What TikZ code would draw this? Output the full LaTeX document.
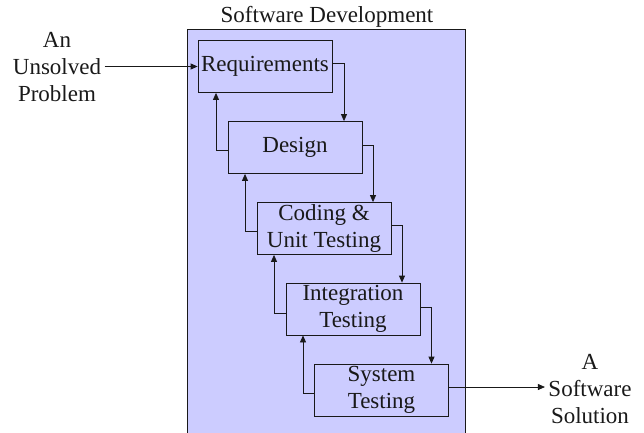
\documentclass[tikz,border=0pt]{standalone}
\usepackage{fontspec}
\setmainfont{Liberation Serif}
\usetikzlibrary{arrows.meta}
\definecolor{lavender}{RGB}{204,204,255}
\definecolor{ink}{RGB}{25,25,25}
\begin{document}
\begin{tikzpicture}[x=1pt,y=-1pt,
  every node/.style={font=\fontsize{23}{27}\selectfont, text=ink},
  phase/.style={draw=ink, line width=0.8pt, minimum width=134pt, minimum height=52pt,
                inner sep=0pt, align=center},
  flow/.style={draw=ink, line width=0.8pt, -{Triangle[length=7pt,width=6pt]}},
  label/.style={align=center}]
  \useasboundingbox (0,0) rectangle (644,432);
  \clip (0,0) rectangle (644,432);

  % enclosing process box
  \fill[lavender] (187,29) rectangle (465,445);
  \draw[ink, line width=0.8pt] (187,445) -- (187,29) -- (465,29) -- (465,445);
  \node (title) at (327,17) {Software Development};

  % phases
  \node[phase] (req) at (265,66.5)  {Requirements};
  \node[phase] (des) at (295,147.5) {Design};
  \node[phase] (cod) at (324,228.5) {Coding \&\\Unit Testing};
  \node[phase] (int) at (353,309)   {Integration\\Testing};
  \node[phase] (sys) at (381.5,390) {System\\Testing};

  % forward flow
  \draw[flow] ([yshift=3pt]req.east) -| ([xshift=49pt]des.north);
  \draw[flow] ([yshift=2pt]des.east) -| ([xshift=49pt]cod.north);
  \draw[flow] ([yshift=3pt]cod.east) -| ([xshift=49pt]int.north);
  \draw[flow] ([yshift=2pt]int.east) -| ([xshift=50pt]sys.north);

  % feedback flow
  \draw[flow] ([yshift=-3pt]des.west) -| ([xshift=-49pt]req.south);
  \draw[flow] ([yshift=-3pt]cod.west) -| ([xshift=-50pt]des.south);
  \draw[flow] ([yshift=-4pt]int.west) -| ([xshift=-50pt]cod.south);
  \draw[flow] ([yshift=-3pt]sys.west) -| ([xshift=-50pt]int.south);

  % input and output
  \node[label] (inp) at (57,67) {An\\Unsolved\\Problem};
  \node[label] (out) at (590,389) {A\\Software\\Solution};
  \draw[flow] (inp.east |- req.west) -- (req.west);
  \draw[flow] ([yshift=3pt]sys.east) -- ([yshift=3pt]sys.east -| out.west);
\end{tikzpicture}
\end{document}
